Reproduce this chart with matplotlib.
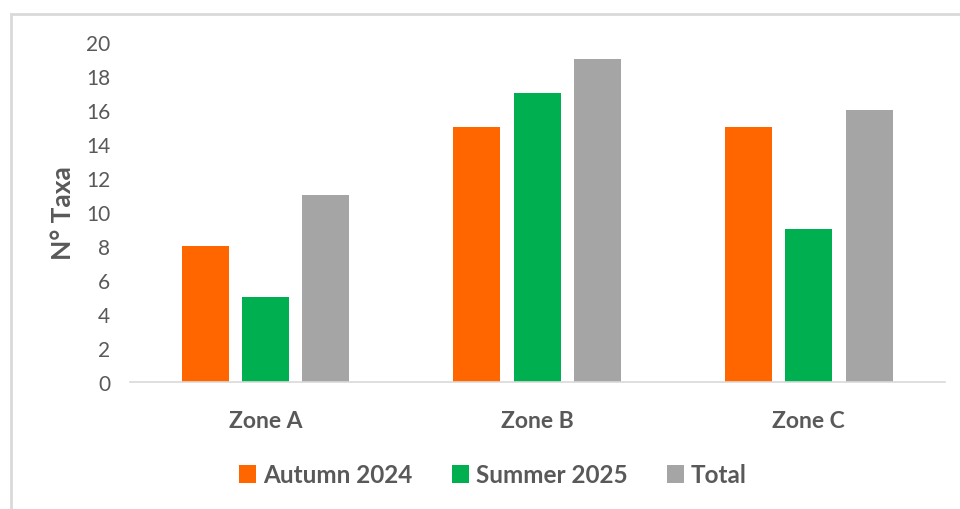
import numpy as np
import matplotlib.pyplot as plt
from matplotlib.patches import Rectangle

plt.rcParams['font.family'] = ['Lato', 'DejaVu Sans']

zones = ['Zone A', 'Zone B', 'Zone C']
autumn_2024 = [8, 15, 15]
summer_2025 = [5, 17, 9]
total = [11, 19, 16]

series = [
    ('Autumn 2024', autumn_2024, '#FF6600'),
    ('Summer 2025', summer_2025, '#00B050'),
    ('Total', total, '#A5A5A5'),
]

fig = plt.figure(figsize=(9.6, 5.1), dpi=100)
ax = fig.add_axes([0.135, 0.249, 0.849, 0.667])

x = np.arange(len(zones))
width = 0.173
step = 0.222
for i, (name, vals, col) in enumerate(series):
    ax.bar(x + (i - 1) * step, vals, width, color=col, label=name, zorder=2)

ax.set_xlim(-0.5, 2.5)
ax.set_ylim(0, 20)
ax.set_yticks(range(0, 21, 2))
ax.set_xticks(x)
ax.set_xticklabels(zones, fontsize=16.5, fontweight='bold', color='#595959')
ax.tick_params(axis='y', length=0, pad=14, labelsize=15, labelcolor='#595959')
ax.tick_params(axis='x', length=0, pad=20)
for s in ['top', 'right', 'left']:
    ax.spines[s].set_visible(False)
ax.spines['bottom'].set_color('#D9D9D9')
ax.spines['bottom'].set_linewidth(1.2)

ax.set_ylabel('N° Taxa', fontsize=19, fontweight='bold', color='#595959', labelpad=8)

# legend sits under the whole chart frame, a bit left of the axes centre
fig.legend(*ax.get_legend_handles_labels(), loc='center', bbox_to_anchor=(493 / 960, 1 - 476 / 510),
           ncol=3, frameon=False, prop={'size': 17.5, 'weight': 'bold'}, labelcolor='#595959',
           handlelength=0.7, handleheight=0.7, handletextpad=0.3, columnspacing=1.6)

# light frame around the chart area
fig.patches.append(Rectangle((11 / 960, -0.1), 1.2, 1 - 15 / 510 + 0.1,
                             transform=fig.transFigure, fill=False,
                             edgecolor='#D9D9D9', linewidth=2))

fig.savefig('out.png', dpi=100)
